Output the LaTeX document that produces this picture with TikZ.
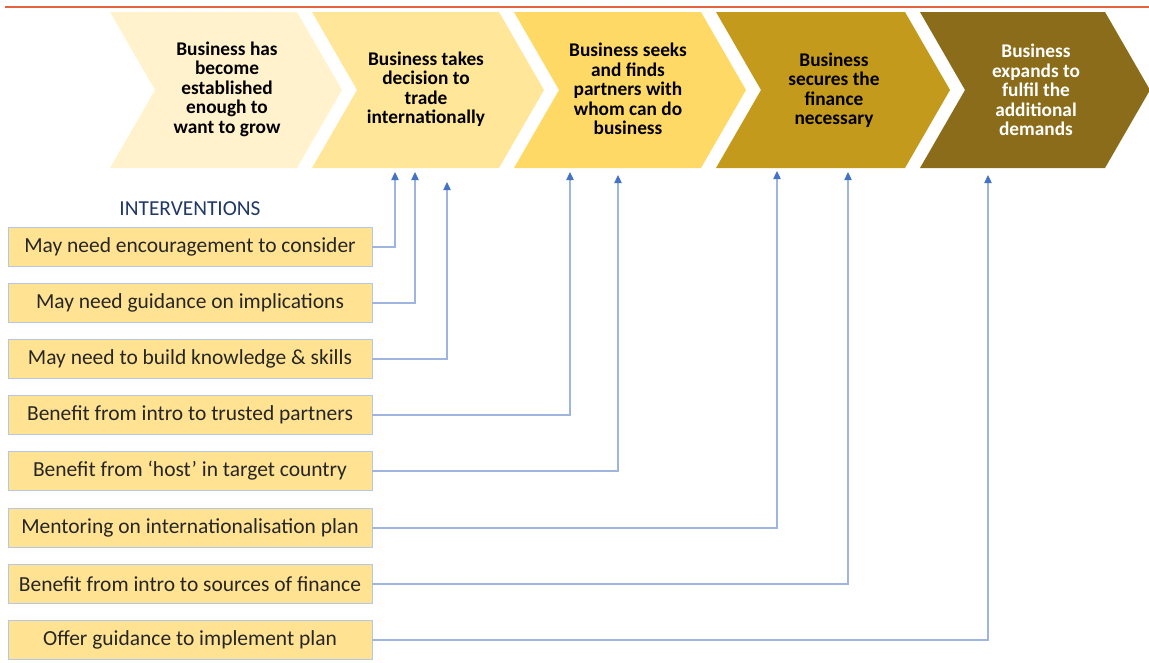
\documentclass[tikz,border=0pt]{standalone}
\usepackage{fontspec}
\setmainfont{Carlito}
\usepackage{tikz}
\usetikzlibrary{arrows.meta}

\definecolor{stageA}{HTML}{FFF2CC}
\definecolor{stageB}{HTML}{FFE699}
\definecolor{stageC}{HTML}{FFD966}
\definecolor{stageD}{HTML}{C49A1C}
\definecolor{stageE}{HTML}{8A6C1A}
\definecolor{boxfill}{HTML}{FFE292}
\definecolor{boxline}{HTML}{B4C7E7}
\definecolor{lineblue}{HTML}{9DB5E0}
\definecolor{tipblue}{HTML}{4472C4}
\definecolor{headblue}{HTML}{203864}
\definecolor{redline}{HTML}{E4633F}
\definecolor{boxtext}{HTML}{262626}

\tikzset{
    stagetext/.style={font=\bfseries\fontsize{14.5}{14.6}\selectfont, align=center},
    action/.style={draw=boxline, fill=boxfill, line width=0.6pt, minimum width=273pt, minimum height=29pt,
        inner sep=0pt, text=boxtext, font=\fontsize{16.1}{18}\selectfont},
    link/.style={draw=lineblue, line width=0.9pt, -{Triangle[length=6pt, width=5.5pt, color=tipblue]}}
}

\begin{document}
\begin{tikzpicture}[x=0.75pt, y=-0.75pt]
    \useasboundingbox (0,0) rectangle (1149,662);
    \draw[redline, line width=2.2pt] (5,7) -- (1149,7);

    % the five stages
    \fill[stageA] (110,12) -- (297,12) -- (342,90) -- (297,168) -- (110,168) -- (155,90) -- cycle;
    \fill[stageB] (312,12) -- (499,12) -- (544,90) -- (499,168) -- (312,168) -- (357,90) -- cycle;
    \fill[stageC] (514,12) -- (701,12) -- (746,90) -- (701,168) -- (514,168) -- (559,90) -- cycle;
    \fill[stageD] (716,12) -- (905,12) -- (950,90) -- (905,168) -- (716,168) -- (761,90) -- cycle;
    \fill[stageE] (920,12) -- (1105,12) -- (1150,90) -- (1105,168) -- (920,168) -- (965,90) -- cycle;
    \node[stagetext] (s1) at (227,89) {Business has\\become\\established\\enough to\\want to grow};
    \node[stagetext] (s2) at (426,89) {Business takes\\decision to\\trade\\internationally};
    \node[stagetext] (s3) at (628,89) {Business seeks\\and finds\\partners with\\whom can do\\business};
    \node[stagetext] (s4) at (834,90) {Business\\secures the\\finance\\necessary};
    \node[stagetext, text=white] (s5) at (1036,90) {Business\\expands to\\fulfil the\\additional\\demands};

    % interventions
    \node[text=headblue, font=\fontsize{16}{18}\selectfont] (head) at (190,209) {INTERVENTIONS};
    \node[action] (b1) at (190,247) {May need encouragement to consider};
    \node[action] (b2) at (190,303) {May need guidance on implications};
    \node[action] (b3) at (190,359) {May need to build knowledge \& skills};
    \node[action] (b4) at (190,415) {Benefit from intro to trusted partners};
    \node[action] (b5) at (190,471) {Benefit from `host' in target country};
    \node[action] (b6) at (190,528) {Mentoring on internationalisation plan};
    \node[action] (b7) at (190,584) {Benefit from intro to sources of finance};
    \node[action] (b8) at (190,640) {Offer guidance to implement plan};

    \coordinate (t1) at (395,172);
    \coordinate (t2) at (415,172);
    \coordinate (t3) at (447,182);
    \coordinate (t4) at (570,172);
    \coordinate (t5) at (618,175);
    \coordinate (t6) at (777,171);
    \coordinate (t7) at (848,172);
    \coordinate (t8) at (988,175);

    \draw[link] (b1.east) -| (t1);
    \draw[link] (b2.east) -| (t2);
    \draw[link] (b3.east) -| (t3);
    \draw[link] (b4.east) -| (t4);
    \draw[link] (b5.east) -| (t5);
    \draw[link] (b6.east) -| (t6);
    \draw[link] (b7.east) -| (t7);
    \draw[link] (b8.east) -| (t8);
\end{tikzpicture}
\end{document}
